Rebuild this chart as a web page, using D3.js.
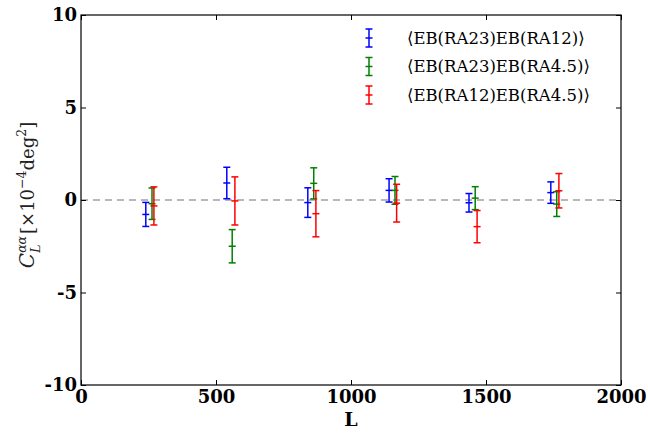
<!DOCTYPE html>
<html><head><meta charset="utf-8">
<script src="https://cdn.jsdelivr.net/npm/d3@7"></script>
<style>body{margin:0;background:#fff}svg{display:block}</style>
</head><body>
<script>
const seriesNames = ["⟨EB(RA23)EB(RA12)⟩", "⟨EB(RA23)EB(RA4.5)⟩", "⟨EB(RA12)EB(RA4.5)⟩"];
const colors = ["#0000ff", "#008000", "#ff0000"];
const L1 = [240, 540, 840, 1141, 1437, 1740];
const L2 = [263, 560, 862, 1163, 1460, 1762];
const L3 = [270, 570, 870, 1169, 1467, 1770];
const v1 = [-0.78, 0.92, -0.14, 0.52, -0.15, 0.40];
const e1 = [0.65, 0.85, 0.80, 0.63, 0.50, 0.58];
const v2 = [-0.20, -2.50, 0.90, 0.52, 0.10, -0.22];
const e2 = [0.85, 0.90, 0.84, 0.75, 0.62, 0.67];
const v3 = [-0.32, -0.05, -0.74, -0.17, -1.44, 0.50];
const e3 = [1.03, 1.30, 1.25, 1.02, 0.87, 0.93];
const xTicks = [0, 500, 1000, 1500, 2000];
const yTicks = [-10, -5, 0, 5, 10];

const W = 648, H = 433;
const m = {l: 81, r: 27, t: 15, b: 48};
const svg = d3.select("body").append("svg").attr("width", W).attr("height", H);
const x = d3.scaleLinear().domain([0, 2000]).range([m.l, W - m.r]);
const y = d3.scaleLinear().domain([-10, 10]).range([H - m.b, m.t]);

// zero line
svg.append("line").attr("x1", x(0)).attr("x2", x(2000)).attr("y1", y(0)).attr("y2", y(0))
  .attr("stroke", "#a0a0a0").attr("stroke-width", 1.5).attr("stroke-dasharray", "7,5");

const series = [[L1, v1, e1], [L2, v2, e2], [L3, v3, e3]];
const cap = 3.5;
series.forEach(([Ls, vs, es], si) => {
  const g = svg.append("g").attr("stroke", colors[si]).attr("stroke-width", 1.5);
  Ls.forEach((L, i) => {
    const cx = x(L), top = y(vs[i] + es[i]), bot = y(vs[i] - es[i]), c = y(vs[i]);
    g.append("line").attr("x1", cx).attr("x2", cx).attr("y1", top).attr("y2", bot);
    [top, bot, c].forEach(yy => g.append("line").attr("x1", cx - cap).attr("x2", cx + cap).attr("y1", yy).attr("y2", yy));
  });
});

// frame
svg.append("rect").attr("x", x(0)).attr("y", y(10)).attr("width", x(2000) - x(0)).attr("height", y(-10) - y(10))
  .attr("fill", "none").attr("stroke", "#000").attr("stroke-width", 1.2);

const font = "'DejaVu Serif', 'Liberation Serif', serif";
// axes ticks
const xa = svg.append("g").attr("transform", `translate(0,${y(-10)})`)
  .call(d3.axisBottom(x).tickValues(xTicks).tickSize(-5).tickPadding(5).tickFormat(d3.format("d")));
const ya = svg.append("g").attr("transform", `translate(${x(0)},0)`)
  .call(d3.axisLeft(y).tickValues(yTicks).tickSize(-5).tickPadding(4).tickFormat(d => d < 0 ? "-" + Math.abs(d) : d));
const xt = svg.append("g").attr("transform", `translate(0,${y(10)})`)
  .call(d3.axisTop(x).tickValues(xTicks).tickSize(-5).tickFormat(""));
const yr = svg.append("g").attr("transform", `translate(${x(2000)},0)`)
  .call(d3.axisRight(y).tickValues(yTicks).tickSize(-5).tickFormat(""));
[xa, ya, xt, yr].forEach(a => {
  a.select(".domain").remove();
  a.selectAll(".tick line").attr("stroke", "#000").attr("stroke-width", 1);
  a.selectAll("text").attr("font-family", font).attr("font-size", 18).attr("font-weight", "bold").attr("fill", "#000");
});

// axis labels
svg.append("text").attr("x", x(1000)).attr("y", 426).attr("text-anchor", "middle")
  .attr("font-family", font).attr("font-size", 19).attr("font-weight", "bold").text("L");

// y label built piecewise in rotated frame
const yg = svg.append("g").attr("transform", `translate(34,${y(0) - 5}) rotate(-90)`);
const inner = yg.append("g");
let cx = 0;
function piece(txt, size, dy, italic, advance = true) {
  const t = inner.append("text").attr("x", cx).attr("y", dy).attr("font-family", font)
    .attr("font-size", size).attr("fill", "#222").text(txt);
  if (italic) t.attr("font-style", "italic");
  const w = t.node().getComputedTextLength();
  if (advance) cx += w;
  return w;
}
piece("C", 20, 0, true);
const sx = cx;
const wa = piece("αα", 12.5, -8.5, true, false);
piece("L", 12.5, 6, true, false);
cx = sx + wa + 2;
piece("[×10", 18, 0, false);
piece("−4", 12.5, -8.5, false);
piece("deg", 18, 0, false);
piece("2", 12.5, -8.5, false);
piece("]", 18, 0, false);
inner.attr("transform", `translate(${-cx / 2},0)`);

// legend
const lg = svg.append("g");
seriesNames.forEach((n, i) => {
  const ly = 38 + i * 28.5;
  const g = lg.append("g").attr("stroke", colors[i]).attr("stroke-width", 1.5);
  g.append("line").attr("x1", 369).attr("x2", 369).attr("y1", ly - 9).attr("y2", ly + 9);
  [ly - 9, ly, ly + 9].forEach(yy => g.append("line").attr("x1", 365.5).attr("x2", 372.5).attr("y1", yy).attr("y2", yy));
  lg.append("text").attr("x", 407).attr("y", ly + 5.5).attr("font-family", font).attr("font-size", 16.5).attr("fill", "#000").text(n);
});
</script>
</body></html>
